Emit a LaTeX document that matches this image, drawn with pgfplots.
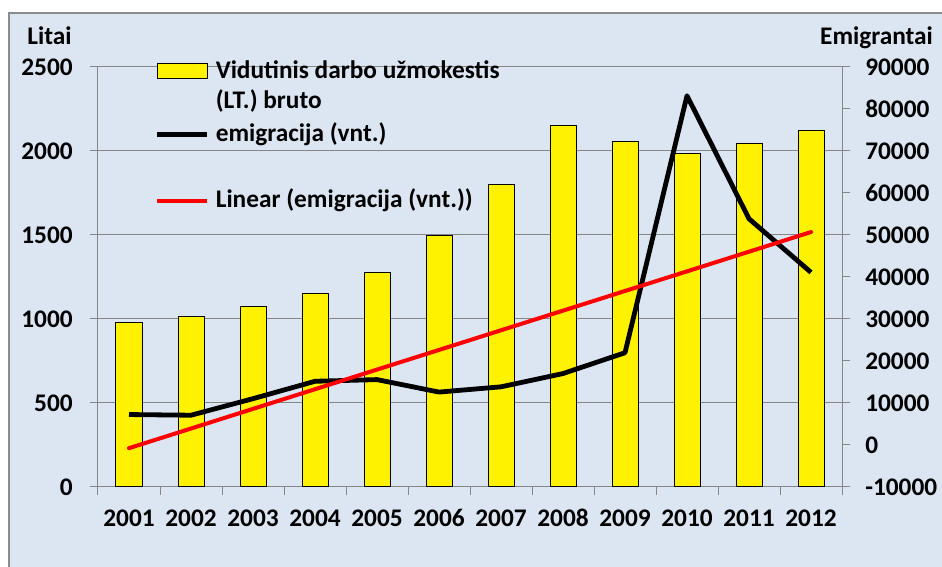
\documentclass[border=0pt]{standalone}
\usepackage{pgfplots}
\pgfplotsset{compat=1.18}
\usepackage{fontspec}
\setmainfont{Carlito}
\definecolor{bg}{HTML}{DCE6F2}
\definecolor{gridc}{HTML}{868686}
\definecolor{framec}{HTML}{8C8C8C}
\newcommand\st[1]{\rule[-7.5pt]{0pt}{#1}}
\newcommand\cf{\fontsize{19}{22.5}\selectfont\bfseries}
\pgfplotsset{
 barleg/.style={legend image code/.code={\draw[fill=yellow,draw=black,line width=0.75pt] (0pt,0pt) rectangle (37.5pt,11.25pt);}},
 lineleg/.style={legend image code/.code={\draw[##1] (0pt,4.7pt) -- (37.5pt,4.7pt);}},
}
\begin{document}
\begin{tikzpicture}
\fill[white] (0,0) rectangle (706.5pt,425.25pt);
\path[use as bounding box] (0,0) rectangle (706.5pt,425.25pt);
\fill[bg] (6.75pt,0) rectangle (706.5pt,415.5pt);
\draw[framec, line width=1.1pt] (6.75pt,0) -- (6.75pt,415.5pt) -- (706.5pt,415.5pt);
\node[font=\cf, anchor=base] at (37.1pt,391.5pt) {Litai};
\node[font=\cf, anchor=base] at (657.4pt,391.5pt) {Emigrantai};
\begin{axis}[
  at={(73.5pt,60pt)}, anchor=south west,
  scale only axis, width=558pt, height=315pt,
  xmin=-0.5, xmax=11.5, ymin=0, ymax=2500,
  axis x line*=bottom, axis y line*=left,
  axis line style={gridc, line width=0.75pt, -},
  xtick={-0.5,0.5,...,11.5}, xticklabels={},
  extra x ticks={0,1,2,3,4,5,6,7,8,9,10,11},
  extra x tick labels={2001,2002,2003,2004,2005,2006,2007,2008,2009,2010,2011,2012},
  extra x tick style={major tick length=0pt, tick style={draw=none}},
  ytick={0,500,...,2500},
  ymajorgrids, major grid style={gridc, line width=0.75pt},
  tick align=outside, major tick length=6pt,
  tick style={gridc, line width=0.75pt},
  ticklabel style={font=\cf, text=black},
  /pgf/number format/assume math mode=true,
  /pgf/number format/1000 sep={},
  yticklabel style={inner sep=0pt, anchor=east, xshift=-12.75pt},
  xticklabel style={inner sep=0pt, anchor=base, yshift=-30pt},
  legend style={at={(0.0766,1.0214)}, anchor=north west, draw=none, fill=none,
    inner sep=0pt, outer sep=0pt, row sep=0pt, column sep=4.5pt,
    nodes={inner sep=0pt}, cells={anchor=base west}, font=\cf},
]
\addplot[ybar, bar width=19.5pt, bar shift=0pt, fill=yellow, draw=black, line width=0.75pt, forget plot]
  coordinates {(0,982) (1,1013) (2,1073) (3,1149) (4,1276) (5,1496) (6,1802) (7,2152) (8,2056) (9,1988) (10,2045) (11,2121)};
\addlegendimage{barleg}
\addlegendentry{\st{22.5pt}Vidutinis darbo užmokestis}
\addlegendimage{empty legend}
\addlegendentry{\st{28.5pt}(LT.) bruto}
\addlegendimage{lineleg, black, line width=3.6pt}
\addlegendentry{\st{30.75pt}emigracija (vnt.)}
\addlegendimage{lineleg, red, line width=3pt}
\addlegendentry{\st{55.5pt}Linear (emigracija (vnt.))}
\end{axis}
\begin{axis}[
  at={(73.5pt,60pt)}, anchor=south west,
  scale only axis, width=558pt, height=315pt,
  xmin=-0.5, xmax=11.5, ymin=-10000, ymax=90000,
  axis y line*=right, axis x line=none,
  axis line style={gridc, line width=0.75pt, -},
  ytick={-10000,0,...,90000}, scaled y ticks=false,
  tick align=outside, major tick length=6pt,
  tick style={gridc, line width=0.75pt},
  ticklabel style={font=\cf, text=black},
  /pgf/number format/assume math mode=true,
  /pgf/number format/1000 sep={},
  yticklabel style={inner sep=0pt, anchor=west, xshift=11.25pt},
]
\addplot[black, line width=3.6pt, line join=round] coordinates {(0,7250) (1,7090) (2,11030) (3,15170) (4,15570) (5,12600) (6,13850) (7,17010) (8,21970) (9,83160) (10,53860) (11,41100)};
\addplot[red, line width=3pt, line cap=round] coordinates {(0,-755) (11,50699)};
\end{axis}
\end{tikzpicture}
\end{document}
